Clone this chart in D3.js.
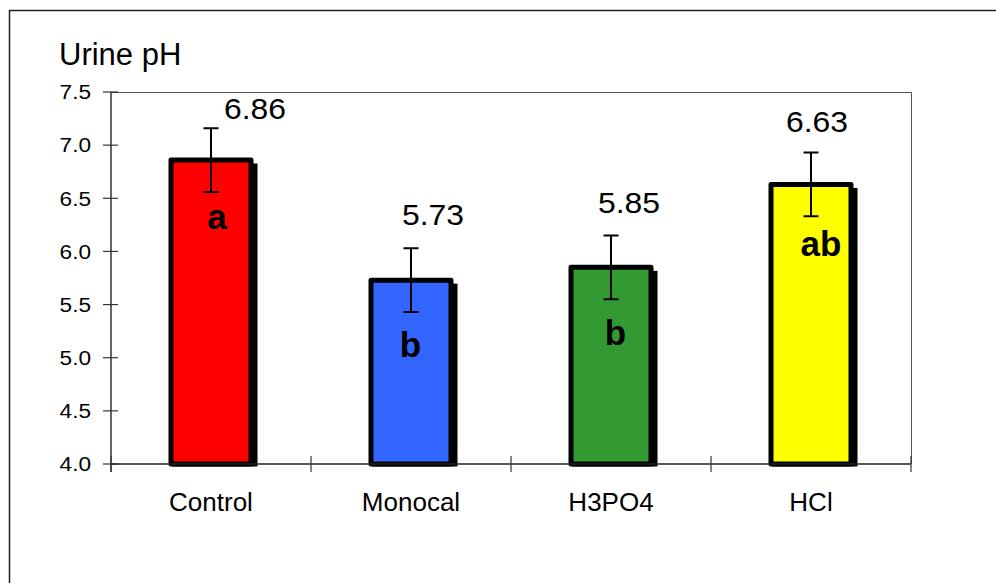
<!DOCTYPE html>
<html>
<head>
<meta charset="utf-8">
<script src="https://cdn.jsdelivr.net/npm/d3@7/dist/d3.min.js"></script>
<style>
  html, body { margin: 0; padding: 0; background: #fff; }
  svg { display: block; font-family: "Liberation Sans", Arial, sans-serif; }
</style>
</head>
<body>
<svg id="chart" width="996" height="583"></svg>
<script>
// Urine pH by treatment, mean ± SE with significance letters
const categories = ["Control", "Monocal", "H3PO4", "HCl"];
const phValues = [6.86, 5.73, 5.85, 6.63];
const phErrors = [0.3, 0.3, 0.3, 0.3];
const sigLetters = ["a", "b", "b", "ab"];
const barColors = ["#FF0000", "#3366FF", "#339933", "#FFFF00"];
const yTicks = [4.0, 4.5, 5.0, 5.5, 6.0, 6.5, 7.0, 7.5];

// hand placement of the annotations relative to each bar
const valueLabelOffset = [[44, -41.5], [22, -55], [18, -54], [6, -52.5]];
const letterOffset = [[6, 69], [-0.5, 76.5], [4.5, 77.5], [10, 72]];

const svg = d3.select("#chart");
const plot = { left: 111, right: 911, top: 92, bottom: 464 };

const x = d3.scaleBand().domain(categories).range([plot.left, plot.right]).padding(0);
const y = d3.scaleLinear().domain([4.0, 7.5]).range([plot.bottom, plot.top]);

// outer frame
svg.append("rect")
  .attr("x", 9.5).attr("y", 10.5)
  .attr("width", 1000).attr("height", 600)
  .attr("fill", "none").attr("stroke", "#222").attr("stroke-width", 1.5);

// plot frame (top and right)
svg.append("path")
  .attr("d", `M${plot.left},${plot.top + 0.5}H${plot.right + 0.5}V${plot.bottom}`)
  .attr("fill", "none").attr("stroke", "#555").attr("stroke-width", 1);

// title
svg.append("text")
  .attr("x", 59).attr("y", 65)
  .attr("font-size", 31).attr("fill", "#000")
  .text("Urine pH");

const barW = x.bandwidth() * 0.4;
const cx = d => x(d) + x.bandwidth() / 2;

// bar shadows
svg.append("g").selectAll("rect")
  .data(categories)
  .join("rect")
  .attr("x", (d) => cx(d) - barW / 2 + 4)
  .attr("y", (d, i) => y(phValues[i]) + 6)
  .attr("width", barW)
  .attr("height", (d, i) => y(4.0) - y(phValues[i]) - 6)
  .attr("fill", "#000")
  .attr("stroke", "#000")
  .attr("stroke-width", 5);

// bars
svg.append("g").selectAll("rect")
  .data(categories)
  .join("rect")
  .attr("x", (d) => cx(d) - barW / 2)
  .attr("y", (d, i) => y(phValues[i]))
  .attr("width", barW)
  .attr("height", (d, i) => y(4.0) - y(phValues[i]))
  .attr("fill", (d, i) => barColors[i])
  .attr("stroke", "#000")
  .attr("stroke-width", 5)
  .attr("stroke-linejoin", "round");

// error bars
const eb = svg.append("g").attr("stroke", "#000").attr("stroke-width", 2).attr("fill", "none");
categories.forEach((c, i) => {
  const xc = cx(c);
  const hi = y(phValues[i] + phErrors[i]);
  const lo = y(phValues[i] - phErrors[i]);
  eb.append("path").attr("d", `M${xc},${hi}V${lo}M${xc - 7.5},${hi}H${xc + 7.5}M${xc - 7.5},${lo}H${xc + 7.5}`);
});

// y axis
const yAxis = svg.append("g");
yAxis.append("line")
  .attr("x1", plot.left).attr("x2", plot.left)
  .attr("y1", plot.top).attr("y2", plot.bottom + 8)
  .attr("stroke", "#333").attr("stroke-width", 1.5);
yAxis.selectAll("line.tick")
  .data(yTicks)
  .join("line")
  .attr("class", "tick")
  .attr("x1", plot.left - 8).attr("x2", plot.left + 7)
  .attr("y1", d => y(d)).attr("y2", d => y(d))
  .attr("stroke", "#333").attr("stroke-width", 1.2);
yAxis.selectAll("text")
  .data(yTicks)
  .join("text")
  .attr("transform", d => `translate(91,${y(d) + 7.3}) scale(1.12,1)`)
  .attr("text-anchor", "end")
  .attr("font-size", 20.2)
  .attr("fill", "#000")
  .text(d => d3.format(".1f")(d));

// x axis
const xAxis = svg.append("g");
xAxis.append("line")
  .attr("x1", plot.left).attr("x2", plot.right)
  .attr("y1", plot.bottom).attr("y2", plot.bottom)
  .attr("stroke", "#222").attr("stroke-width", 1.5);
const bounds = categories.map(c => x(c)).concat([plot.right]);
xAxis.selectAll("line.tick")
  .data(bounds)
  .join("line")
  .attr("class", "tick")
  .attr("x1", d => d).attr("x2", d => d)
  .attr("y1", plot.bottom - 8).attr("y2", plot.bottom + 8)
  .attr("stroke", "#333").attr("stroke-width", 1.2);
xAxis.selectAll("text")
  .data(categories)
  .join("text")
  .attr("x", d => cx(d))
  .attr("y", 511)
  .attr("text-anchor", "middle")
  .attr("font-size", 26)
  .attr("fill", "#000")
  .text(d => d);

// value labels
svg.append("g").selectAll("text")
  .data(categories)
  .join("text")
  .attr("transform", (d, i) => `translate(${cx(d) + valueLabelOffset[i][0]},${y(phValues[i]) + valueLabelOffset[i][1]}) scale(1.1,1)`)
  .attr("text-anchor", "middle")
  .attr("font-size", 29)
  .attr("fill", "#000")
  .text((d, i) => phValues[i].toFixed(2));

// significance letters
svg.append("g").selectAll("text")
  .data(categories)
  .join("text")
  .attr("x", (d, i) => cx(d) + letterOffset[i][0])
  .attr("y", (d, i) => y(phValues[i]) + letterOffset[i][1])
  .attr("text-anchor", "middle")
  .attr("font-size", 35)
  .attr("font-weight", "bold")
  .attr("fill", "#000")
  .text((d, i) => sigLetters[i]);
</script>
</body>
</html>
